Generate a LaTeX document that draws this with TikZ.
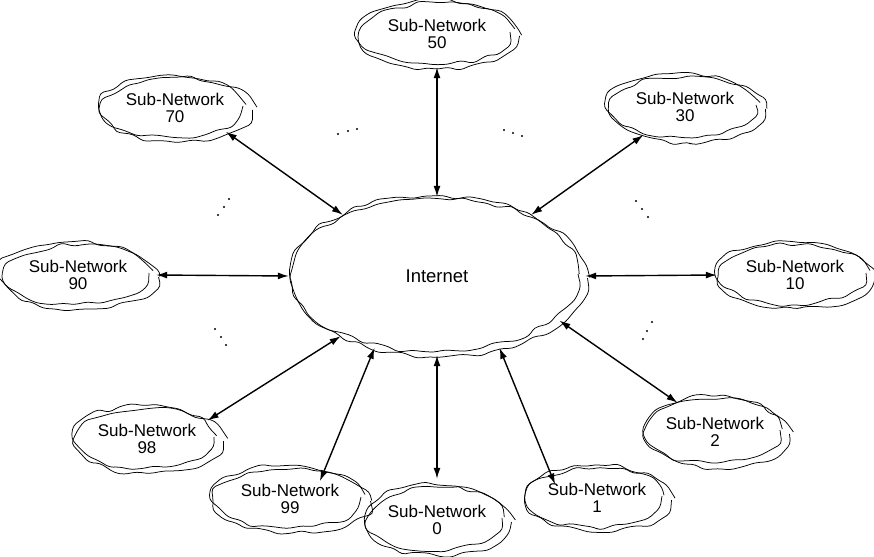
\documentclass[tikz,border=0pt]{standalone}
\usepackage{fontspec}
\setmainfont{Liberation Sans}
\usetikzlibrary{shapes.geometric,arrows.meta,decorations.pathmorphing,calc}
\tikzset{
  net/.style={ellipse, draw=none, inner sep=0pt, align=center,
    font=\fontsize{17}{16.5}\selectfont},
  cloudline/.style={draw=black, line width=0.75pt, decorate,
    decoration={random steps, segment length=12pt, amplitude=3pt},
    rounded corners=4pt},
  link/.style={{Latex[length=11pt,width=7pt]}-{Latex[length=11pt,width=7pt]},
    line width=1.4pt},
  dot/.style={fill=black},
}
% two overlapping wobbly outlines around a named node
\newcommand\netcloud[3]{%
  \draw[cloudline] ($(#1.center)+(2.5,2)$) ellipse [x radius=#2, y radius=#3];
  \draw[cloudline] ($(#1.center)+(-3,-2)$) ellipse [x radius=#2-4, y radius=#3-1];
}
\begin{document}
\begin{tikzpicture}[x=1pt,y=-1pt]
\pgfmathsetseed{4242}
\useasboundingbox (0,0) rectangle (874,556);

% central cloud
\node[net, minimum width=296pt, minimum height=158pt,
      font=\fontsize{18.5}{18}\selectfont] (inet) at (437,276) {Internet};
\netcloud{inet}{148}{79}

% sub-networks
\node[net, minimum width=160pt, minimum height=66pt] (n50) at (437,34) {Sub-Network\\50};
\node[net, minimum width=150pt, minimum height=64pt] (n70) at (175,108) {Sub-Network\\70};
\node[net, minimum width=156pt, minimum height=66pt] (n30) at (685,107) {Sub-Network\\30};
\node[net, minimum width=156pt, minimum height=64pt] (n90) at (78,275) {Sub-Network\\90};
\node[net, minimum width=156pt, minimum height=64pt] (n10) at (795,275) {Sub-Network\\10};
\node[net, minimum width=148pt, minimum height=64pt] (n98) at (147,439) {Sub-Network\\98};
\node[net, minimum width=156pt, minimum height=64pt] (n99) at (290,499) {Sub-Network\\99};
\node[net, minimum width=144pt, minimum height=68pt] (n0) at (437,520) {Sub-Network\\0};
\node[net, minimum width=144pt, minimum height=64pt] (n1) at (597,498) {Sub-Network\\1};
\node[net, minimum width=144pt, minimum height=68pt] (n2) at (715,432) {Sub-Network\\2};

\netcloud{n50}{80}{33}
\netcloud{n70}{75}{32}
\netcloud{n30}{78}{33}
\netcloud{n90}{78}{32}
\netcloud{n10}{78}{32}
\netcloud{n98}{74}{32}
\netcloud{n99}{78}{32}
\netcloud{n0}{72}{34}
\netcloud{n1}{72}{32}
\netcloud{n2}{72}{34}

% links to the Internet
\draw[link] (n50.270) -- (inet.90);
\draw[link] (n70.335) -- (inet.147);
\draw[link] (n30.214) -- (inet.33);
\draw[link] (n90.0) -- (inet.180);
\draw[link] (n10.180) -- (inet.0);
\draw[link] (n98.17) -- (inet.212);
\draw[link, shorten <=-12pt] (n99.40) -- (inet.229);
\draw[link, shorten <=7pt] (n0.90) -- (inet.270);
\draw[link, shorten <=-12pt] (n1.152) -- (inet.311);
\draw[link] (n2.142) -- (inet.340);

% ellipsis dots between sub-networks
\foreach \p in {(338,134),(348,131),(357,129),
                (504,130),(513,133),(522,136),
                (229,199),(224,207),(218,215),
                (636,201),(642,209),(648,217),
                (215,329),(221,337),(226,345),
                (652,322),(647,331),(643,339)}
  \fill[dot] \p circle (1.1);
\end{tikzpicture}
\end{document}
